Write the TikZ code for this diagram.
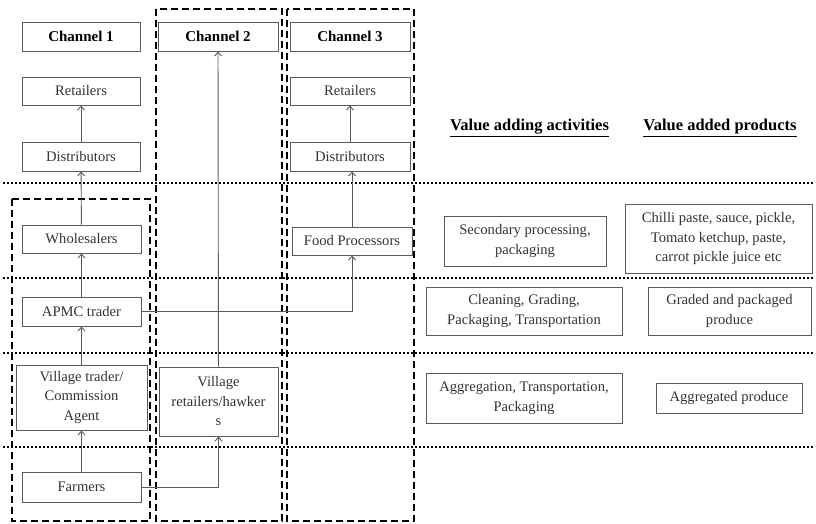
\documentclass[tikz,border=0pt]{standalone}
\usepackage{fontspec}
\setmainfont{Liberation Serif}
\usetikzlibrary{arrows.meta}
\definecolor{boxline}{HTML}{5A5A5A}
\definecolor{boxtext}{HTML}{333333}
\begin{document}
\begin{tikzpicture}[x=1pt,y=-1pt,
  box/.style={draw=boxline,line width=0.9pt,text=boxtext,inner sep=1pt,align=center,
    font=\fontsize{14.6}{19.5}\selectfont},
  headbox/.style={box,text=black,font=\fontsize{15}{19}\selectfont\bfseries},
  head/.style={text=black,font=\fontsize{16.5}{20}\selectfont\bfseries},
  arr/.style={draw=boxline,line width=0.9pt,-{Straight Barb[length=4pt,width=7pt]}},
  chanframe/.style={draw=black,line width=1.8pt,dash pattern=on 7pt off 4pt},
  tierline/.style={draw=black,line width=2pt,dash pattern=on 2pt off 2pt}]
\useasboundingbox (0,0) rectangle (816,524);

% tier separators
\foreach \yy in {183,278,353,447}
  \draw[tierline] (3,\yy) -- (813,\yy);

% channel frames
\draw[chanframe] (12,199) rectangle (150,521);
\draw[chanframe] (156,9) rectangle (282,521);
\draw[chanframe] (287,9) rectangle (414,521);

% channel headings
\node[headbox,minimum width=118pt,minimum height=29pt] (ch1) at (81,36.5) {Channel 1};
\node[headbox,minimum width=120pt,minimum height=29pt] (ch2) at (218,36.5) {Channel 2};
\node[headbox,minimum width=120pt,minimum height=29pt] (ch3) at (350,36.5) {Channel 3};

% channel 1
\node[box,minimum width=118pt,minimum height=28pt] (ret1) at (81,91) {Retailers};
\node[box,minimum width=118pt,minimum height=29pt] (dis1) at (81,156.5) {Distributors};
\node[box,minimum width=119pt,minimum height=28pt] (whl) at (81.5,239) {Wholesalers};
\node[box,minimum width=119pt,minimum height=29pt] (apmc) at (81.5,311.5) {APMC trader};
\node[box,minimum width=131pt,minimum height=65pt] (vt) at (81.5,397.5) {Village trader/\\Commission\\Agent};
\node[box,minimum width=119pt,minimum height=30pt] (farm) at (81.5,487) {Farmers};

% channel 2
\node[box,minimum width=119pt,minimum height=69pt] (vr) at (218.5,401.5) {Village\\retailers/hawker\\s};

% channel 3
\node[box,minimum width=120pt,minimum height=28pt] (ret3) at (350,91) {Retailers};
\node[box,minimum width=120pt,minimum height=29pt] (dis3) at (350,156.5) {Distributors};
\node[box,minimum width=120pt,minimum height=28pt] (fp) at (352,241) {Food Processors};

% value chain columns
\node[head] (hva) at (529.5,128) {\underline{Value adding activities}};
\node[head] (hvp) at (720,128) {\underline{Value added products}};

\node[box,minimum width=162pt,minimum height=50pt] (sec) at (525,241) {Secondary processing,\\packaging};
\node[box,minimum width=187pt,minimum height=69pt] (chilli) at (718.5,238.5) {Chilli paste, sauce, pickle,\\Tomato ketchup, paste,\\carrot pickle juice etc};
\node[box,minimum width=196pt,minimum height=48pt] (clean) at (524,311) {Cleaning, Grading,\\Packaging, Transportation};
\node[box,minimum width=163pt,minimum height=48pt] (graded) at (729.5,311) {Graded and packaged\\produce};
\node[box,minimum width=196pt,minimum height=50pt] (aggr) at (524,398) {Aggregation, Transportation,\\Packaging};
\node[box,minimum width=146pt,minimum height=30pt] (aggp) at (729,398) {Aggregated produce};

% flows
\draw[arr] (dis1) -- (ret1);
\draw[arr] (whl) -- (dis1);
\draw[arr] (apmc) -- (whl);
\draw[arr] (vt) -- (apmc);
\draw[arr] (farm) -- (vt);
\draw[arr] (vr) -- (ch2);
\draw[arr] (farm.east) -| (vr.south);
\draw[arr] (apmc.east) -| (fp.south);
\draw[arr] (fp.north) -- (fp.north |- dis3.south);
\draw[arr] (dis3) -- (ret3);
\end{tikzpicture}
\end{document}
